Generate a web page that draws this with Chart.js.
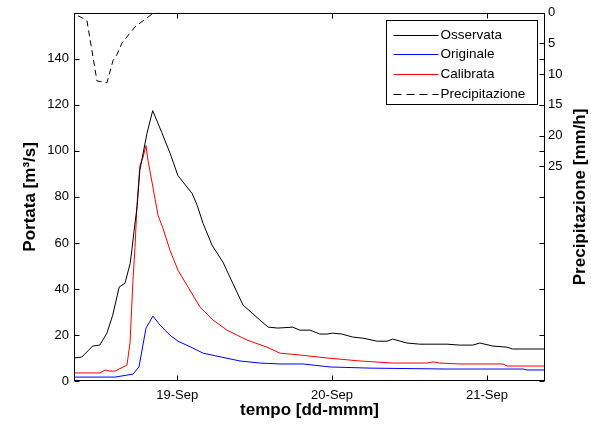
<!DOCTYPE html>
<html>
<head>
<meta charset="utf-8">
<script src="https://cdn.jsdelivr.net/npm/chart.js@4.4.1/dist/chart.umd.min.js"></script>
<style>
html,body{margin:0;padding:0;background:#fff;}
#wrap{width:591px;height:425px;}
</style>
</head>
<body>
<div id="wrap"><canvas id="c" width="591" height="425"></canvas></div>
<script>
// time in hours since 18-Sep 00:00
const dayTicks = [24, 48, 72];
const dayLabels = ['19-Sep', '20-Sep', '21-Sep'];
const portataTicks = [0, 20, 40, 60, 80, 100, 120, 140];
const precTicks = [0, 5, 10, 15, 20, 25];

const obsTime  = [8.0, 9.2, 10.9, 12.0, 13.1, 14.0, 15.0, 15.9, 16.7, 17.0, 17.3, 17.8, 18.2, 19.3, 20.2, 21.6, 22.9, 24.1, 26.3, 27.1, 28.0, 29.4, 31.1, 32.6, 34.2, 35.6, 36.8, 38.1, 39.6, 41.9, 43.0, 44.6, 46.1, 47.2, 48.1, 49.5, 51.2, 52.8, 55.0, 56.5, 57.4, 59.6, 61.6, 65.8, 67.8, 69.8, 70.9, 72.9, 75.1, 76.0, 81.0];
const obsValue = [10.0, 10.4, 15.2, 15.6, 20.8, 28.6, 40.8, 42.5, 51.0, 57.7, 65.0, 76.3, 91.5, 107.5, 117.5, 108.0, 98.9, 89.3, 81.5, 76.3, 68.5, 59.0, 51.6, 42.5, 33.0, 29.5, 26.5, 23.4, 23.0, 23.4, 22.1, 22.1, 20.4, 20.4, 20.8, 20.4, 19.1, 18.6, 17.3, 17.3, 18.2, 16.5, 16.0, 16.0, 15.6, 15.6, 16.5, 15.2, 14.7, 13.9, 13.9];

const origTime  = [8.0, 14.35, 17.14, 18.07, 19.16, 20.24, 21.33, 22.88, 24.12, 26.44, 27.99, 30.16, 33.73, 36.83, 39.93, 43.49, 47.68, 53.88, 65.81, 77.59, 78.21, 81.0];
const origValue = [1.7, 1.7, 3.0, 6.1, 23.0, 28.2, 24.3, 19.9, 17.3, 14.3, 12.1, 10.8, 8.7, 7.8, 7.4, 7.4, 6.1, 5.6, 5.2, 5.2, 4.8, 4.8];

const calTime  = [8.0, 12.03, 12.8, 13.58, 14.35, 16.21, 16.68, 17.14, 17.45, 17.76, 18.07, 18.23, 18.69, 19.16, 19.47, 20.24, 21.02, 21.79, 22.88, 24.12, 25.51, 27.53, 29.54, 31.71, 34.81, 37.91, 39.93, 43.03, 47.21, 52.33, 57.44, 62.71, 63.64, 64.7, 67.83, 74.49, 75.11, 81.0];
const calValue = [3.5, 3.5, 4.8, 4.3, 4.3, 6.9, 16.5, 43.8, 58.0, 76.3, 88.5, 93.7, 97.1, 102.3, 95.8, 84.1, 72.0, 66.3, 56.8, 48.1, 41.6, 32.1, 26.5, 22.1, 17.8, 14.7, 12.1, 11.3, 10.0, 8.7, 7.8, 7.8, 8.3, 7.8, 7.4, 7.4, 6.5, 6.5];

const precTime  = [8.62, 9.24, 10.01, 11.56, 13.11, 14.04, 14.66, 15.44, 16.68, 17.45, 20.09, 21.3];
const precValue = [0.5, 0.8, 1.3, 11.1, 11.4, 7.8, 6.8, 4.9, 3.3, 2.3, 0.2, 0.0];

const seriesNames = ['Osservata', 'Originale', 'Calibrata', 'Precipitazione'];

const pts = (t, v) => t.map((x, i) => ({x: x, y: v[i]}));
const FONT = '"Liberation Sans", Arial, Helvetica, sans-serif';

const matlabPlugin = {
  id: 'matlab',
  afterDraw(chart) {
    const ctx = chart.ctx;
    const a = chart.chartArea;
    const sx = chart.scales.x, sy = chart.scales.y, sy1 = chart.scales.y1;
    const L = Math.round(a.left) + 0.5, R = Math.round(a.right) - 0.5;
    const T = Math.round(a.top) + 0.5, B = Math.round(a.bottom) - 0.5;
    const tl = 5;
    ctx.save();
    ctx.strokeStyle = '#000';
    ctx.lineWidth = 1;
    ctx.setLineDash([]);
    ctx.beginPath();
    dayTicks.forEach(v => {
      const px = Math.round(sx.getPixelForValue(v)) + 0.5;
      ctx.moveTo(px, B); ctx.lineTo(px, B - tl);
      ctx.moveTo(px, T); ctx.lineTo(px, T + tl);
    });
    portataTicks.forEach(v => {
      const py = Math.round(sy.getPixelForValue(v)) + 0.5;
      ctx.moveTo(L, py); ctx.lineTo(L + tl, py);
      ctx.moveTo(R, py); ctx.lineTo(R - tl, py);
    });
    precTicks.forEach(v => {
      const py = Math.round(sy1.getPixelForValue(v)) + 0.5;
      ctx.moveTo(R, py); ctx.lineTo(R - tl, py);
    });
    ctx.stroke();
    ctx.strokeRect(L, T, R - L, B - T);

    // legend
    const bx = Math.round(a.right) - 158.5, by = Math.round(a.top) + 7.5, bw = 151, bh = 84;
    ctx.fillStyle = '#fff';
    ctx.fillRect(bx, by, bw, bh);
    ctx.strokeStyle = '#000';
    ctx.strokeRect(bx, by, bw, bh);
    ctx.font = '13.5px ' + FONT;
    ctx.textBaseline = 'middle';
    ctx.textAlign = 'left';
    chart.data.datasets.forEach((ds, i) => {
      const yy = Math.round(by + 14 + i * 19.7) + 0.5;
      ctx.strokeStyle = ds.borderColor;
      ctx.lineWidth = 1;
      ctx.setLineDash(ds.borderDash ? [8, 5] : []);
      ctx.beginPath();
      ctx.moveTo(bx + 7, yy); ctx.lineTo(bx + 52, yy);
      ctx.stroke();
      ctx.setLineDash([]);
      ctx.fillStyle = '#000';
      ctx.fillText(ds.label, bx + 54, yy);
    });

    // right axis title (reads bottom-to-top)
    ctx.save();
    ctx.translate(580, (a.top + a.bottom) / 2);
    ctx.rotate(-Math.PI / 2);
    ctx.font = 'bold 17px ' + FONT;
    ctx.fillStyle = '#000';
    ctx.textAlign = 'center';
    ctx.textBaseline = 'middle';
    ctx.fillText('Precipitazione [mm/h]', 0, 0);
    ctx.restore();
    ctx.restore();
  }
};

new Chart(document.getElementById('c'), {
  type: 'line',
  data: {
    datasets: [
      {label: seriesNames[0], data: pts(obsTime, obsValue), borderColor: '#000000', yAxisID: 'y'},
      {label: seriesNames[1], data: pts(origTime, origValue), borderColor: '#0000ff', yAxisID: 'y'},
      {label: seriesNames[2], data: pts(calTime, calValue), borderColor: '#ff0000', yAxisID: 'y'},
      {label: seriesNames[3], data: pts(precTime, precValue), borderColor: '#000000', borderDash: [6, 4], yAxisID: 'y1'}
    ]
  },
  options: {
    responsive: false,
    animation: false,
    devicePixelRatio: 1,
    layout: {padding: {top: 12, left: 0, right: 0, bottom: 0}},
    elements: {
      point: {radius: 0, hoverRadius: 0},
      line: {borderWidth: 1, tension: 0, fill: false}
    },
    plugins: {legend: {display: false}, tooltip: {enabled: false}},
    scales: {
      x: {
        type: 'linear', min: 8, max: 81,
        afterBuildTicks: s => { s.ticks = dayTicks.map(v => ({value: v})); },
        afterFit: s => { s.height = 44; },
        ticks: {
          color: '#000', font: {family: FONT, size: 13}, padding: 7, maxRotation: 0, autoSkip: false,
          callback: v => { const i = dayTicks.indexOf(v); return i >= 0 ? dayLabels[i] : ''; }
        },
        grid: {display: false, drawTicks: false},
        border: {display: false},
        title: {display: true, text: 'tempo [dd-mmm]', color: '#000', font: {family: FONT, size: 17, weight: 'bold'}, padding: {top: 0, bottom: 4}}
      },
      y: {
        position: 'left', min: 0, max: 160,
        afterBuildTicks: s => { s.ticks = portataTicks.map(v => ({value: v})); },
        afterFit: s => { s.width = 74; },
        ticks: {color: '#000', font: {family: FONT, size: 13}, padding: 5, autoSkip: false},
        grid: {display: false, drawTicks: false},
        border: {display: false},
        title: {display: true, text: 'Portata [m³/s]', color: '#000', font: {family: FONT, size: 17, weight: 'bold'}, padding: {top: 20, bottom: 0}}
      },
      y1: {
        position: 'right', min: 0, max: 60, reverse: true,
        afterBuildTicks: s => { s.ticks = precTicks.map(v => ({value: v})); },
        afterFit: s => { s.width = 46; },
        ticks: {color: '#000', font: {family: FONT, size: 13}, padding: 3, autoSkip: false},
        grid: {display: false, drawTicks: false},
        border: {display: false}
      }
    }
  },
  plugins: [matlabPlugin]
});
</script>
</body>
</html>
